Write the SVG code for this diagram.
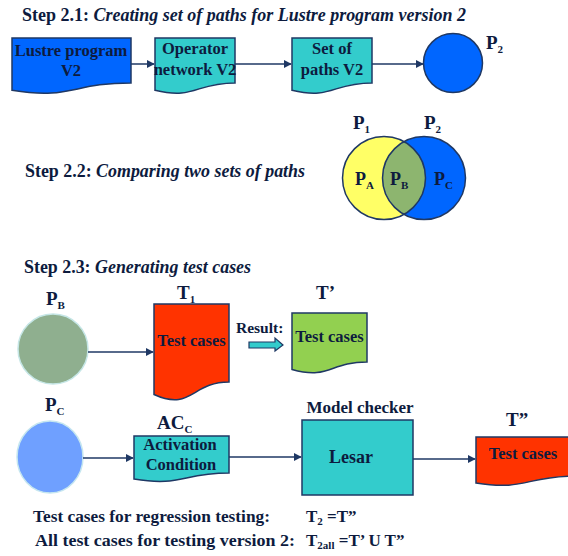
<svg xmlns="http://www.w3.org/2000/svg" width="568" height="556" viewBox="0 0 568 556">
  <defs>
    <style>
      .t { font-weight: bold; fill: #0d1b3e; }
      .h { font-size: 18.5px; }
      .it { font-style: italic; }
      .lbl { font-size: 16.5px; text-anchor: middle; }
      .sub { font-size: 11px; }
      .shape { stroke: #1f3864; stroke-width: 1.5; }
      .edge { fill: none; stroke: #1f3864; stroke-width: 1.5; marker-end: url(#arrow); }
    </style>
    <marker id="arrow" viewBox="0 0 10 10" refX="9" refY="5" markerWidth="8" markerHeight="8" orient="auto" markerUnits="userSpaceOnUse">
      <path d="M0,0 L10,5 L0,10 Z" fill="#1f3864"/>
    </marker>
  </defs>
  <rect width="568" height="556" fill="#ffffff"/>

  <!-- Step 2.1 -->
  <text class="t h" font-family="Liberation Serif" x="22" y="21" textLength="444" lengthAdjust="spacingAndGlyphs">Step 2.1: <tspan class="it">Creating set of paths for Lustre program version 2</tspan></text>

  <g id="lustre-v2">
    <path class="shape" fill="#0066ff" d="M12,38 H131 V82.9 C71.5,82.9 71.5,100 12,90.3 Z"/>
    <text class="t lbl" font-family="Liberation Serif" x="71" y="56">Lustre program</text>
    <text class="t lbl" font-family="Liberation Serif" x="71" y="76">V2</text>
  </g>
  <g id="operator-network-v2">
    <path class="shape" fill="#33cccc" d="M155,38 H235 V82.9 C195,82.9 195,100 155,90.3 Z"/>
    <text class="t lbl" font-family="Liberation Serif" x="195" y="54">Operator</text>
    <text class="t lbl" font-family="Liberation Serif" x="195" y="75">network V2</text>
  </g>
  <g id="paths-v2">
    <path class="shape" fill="#33cccc" d="M292,38 H372 V82.9 C332,82.9 332,100 292,90.3 Z"/>
    <text class="t lbl" font-family="Liberation Serif" x="332" y="54">Set of</text>
    <text class="t lbl" font-family="Liberation Serif" x="332" y="75">paths V2</text>
  </g>
  <g id="p2-circle">
    <circle class="shape" cx="453" cy="63" r="29.5" fill="#0066ff"/>
    <text class="t" font-family="Liberation Serif" x="486" y="49" font-size="19">P<tspan class="sub" dy="4">2</tspan></text>
  </g>

  <!-- Step 2.2 -->
  <text class="t h" font-family="Liberation Serif" x="25" y="177" textLength="280" lengthAdjust="spacingAndGlyphs">Step 2.2: <tspan class="it">Comparing two sets of paths</tspan></text>

  <g id="venn">
    <circle cx="384" cy="178" r="41.5" fill="#ffff66"/>
    <circle cx="424" cy="178" r="41.5" fill="#0066ff"/>
    <path d="M404,141.8 A41.5,41.5 0 0 1 404,214.2 A41.5,41.5 0 0 1 404,141.8 Z" fill="#8db56f"/>
    <circle cx="384" cy="178" r="41.5" fill="none" stroke="#1f3864" stroke-width="1.5"/>
    <circle cx="424" cy="178" r="41.5" fill="none" stroke="#1f3864" stroke-width="1.5"/>
    <text class="t" font-family="Liberation Serif" x="353" y="129" font-size="19">P<tspan class="sub" dy="4">1</tspan></text>
    <text class="t" font-family="Liberation Serif" x="424" y="129" font-size="19">P<tspan class="sub" dy="4">2</tspan></text>
    <text class="t" font-family="Liberation Serif" x="355" y="185" font-size="18">P<tspan class="sub" dy="4">A</tspan></text>
    <text class="t" font-family="Liberation Serif" x="390" y="185" font-size="18">P<tspan class="sub" dy="4">B</tspan></text>
    <text class="t" font-family="Liberation Serif" x="434" y="185" font-size="18">P<tspan class="sub" dy="4">C</tspan></text>
  </g>

  <!-- Step 2.3 -->
  <text class="t h" font-family="Liberation Serif" x="24" y="273" textLength="227" lengthAdjust="spacingAndGlyphs">Step 2.3: <tspan class="it">Generating test cases</tspan></text>

  <g id="pb-circle">
    <text class="t" font-family="Liberation Serif" x="46" y="305" font-size="19">P<tspan class="sub" dy="4">B</tspan></text>
    <circle cx="53" cy="349" r="35" fill="#8faf8f" stroke="#c5e6e6" stroke-width="1.5"/>
  </g>
  <g id="t1">
    <text class="t" font-family="Liberation Serif" x="177" y="299" font-size="19">T<tspan class="sub" dy="4">1</tspan></text>
    <path class="shape" fill="#ff3300" d="M154,304 H229 V382 C191.5,382 191.5,411.5 154,394.5 Z"/>
    <text class="t lbl" font-family="Liberation Serif" x="191.5" y="346">Test cases</text>
  </g>
  <g id="result-arrow">
    <text class="t" font-family="Liberation Serif" x="236" y="333" font-size="15.5">Result:</text>
    <path d="M249,342 H275 V338 L283,345 L275,351 V348 H249 Z" fill="#33cccc" stroke="#1f3864" stroke-width="1.2"/>
  </g>
  <g id="t-prime">
    <text class="t" font-family="Liberation Serif" x="316" y="299" font-size="19">T&#8217;</text>
    <path class="shape" fill="#92d050" d="M292,313 H367 V362 C329.5,362 329.5,380 292,369.5 Z"/>
    <text class="t lbl" font-family="Liberation Serif" x="329.5" y="342">Test cases</text>
  </g>

  <g id="pc-circle">
    <text class="t" font-family="Liberation Serif" x="45" y="411" font-size="19">P<tspan class="sub" dy="4">C</tspan></text>
    <ellipse cx="50" cy="457" rx="33" ry="36" fill="#6fa0ff" stroke="#c5e6f0" stroke-width="1.5"/>
  </g>
  <g id="activation-condition">
    <text class="t" font-family="Liberation Serif" x="157" y="429" font-size="19">AC<tspan class="sub" dy="4">C</tspan></text>
    <path class="shape" fill="#33cccc" d="M134,436 H229 V473 C181.5,473 181.5,487 134,479 Z"/>
    <text class="t lbl" font-family="Liberation Serif" x="180" y="450">Activation</text>
    <text class="t lbl" font-family="Liberation Serif" x="181" y="470">Condition</text>
  </g>
  <g id="lesar">
    <text class="t" font-family="Liberation Serif" x="360" y="413" font-size="17" text-anchor="middle">Model checker</text>
    <rect class="shape" x="302" y="420" width="111" height="75" fill="#33cccc"/>
    <text class="t" font-family="Liberation Serif" x="351" y="463" font-size="18" text-anchor="middle">Lesar</text>
  </g>
  <g id="t-double-prime">
    <text class="t" font-family="Liberation Serif" x="506" y="426" font-size="19">T&#8221;</text>
    <path class="shape" fill="#ff3300" d="M476,437 H576 V476 C526,476 526,491 476,483 Z"/>
    <text class="t lbl" font-family="Liberation Serif" x="523" y="459">Test cases</text>
  </g>

  <!-- connectors -->
  <g id="connectors">
    <line class="edge" x1="131" y1="64" x2="154" y2="64"/>
    <line class="edge" x1="235" y1="64" x2="291" y2="64"/>
    <line class="edge" x1="372" y1="64" x2="423" y2="64"/>
    <line class="edge" x1="88" y1="352" x2="153" y2="352"/>
    <line class="edge" x1="83" y1="458" x2="133" y2="458"/>
    <line class="edge" x1="229" y1="457" x2="301" y2="457"/>
    <line class="edge" x1="413" y1="459" x2="475" y2="459"/>
  </g>

  <!-- summary -->
  <text class="t" font-family="Liberation Serif" x="33" y="522" font-size="17" textLength="237" lengthAdjust="spacingAndGlyphs">Test cases for regression testing:</text>
  <text class="t" font-family="Liberation Serif" x="306" y="522" font-size="17">T<tspan class="sub" dy="3">2</tspan><tspan dy="-3"> =T&#8221;</tspan></text>
  <text class="t" font-family="Liberation Serif" x="35" y="546" font-size="17" textLength="260" lengthAdjust="spacingAndGlyphs">All test cases for testing version 2:</text>
  <text class="t" font-family="Liberation Serif" x="306" y="546" font-size="17">T<tspan class="sub" dy="3">2all</tspan><tspan dy="-3"> =T&#8217; U T&#8221;</tspan></text>
</svg>
